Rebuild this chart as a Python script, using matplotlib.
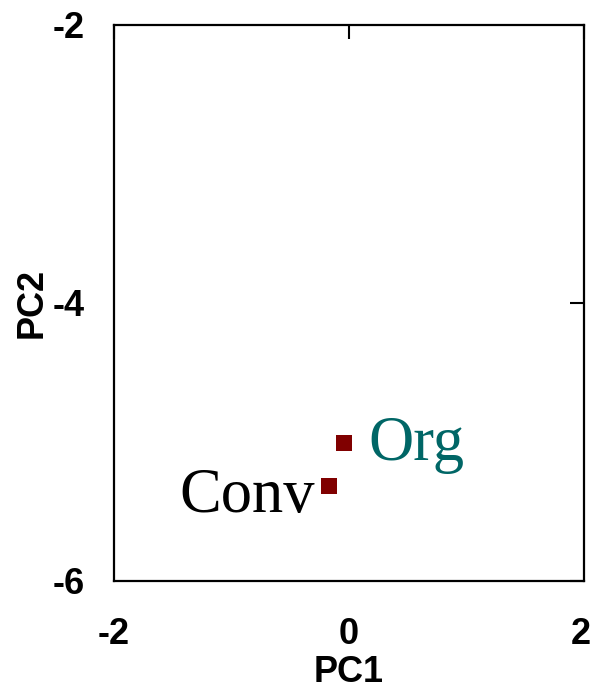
import matplotlib
matplotlib.use("Agg")
import matplotlib.pyplot as plt
from matplotlib.transforms import ScaledTranslation

# PCA scores for the two farming systems
groups = ["Org", "Conv"]
pc1 = [-0.04, -0.17]
pc2 = [-5.01, -5.32]
label_colors = ["#006666", "#000000"]
x_ticks = [-2, 0, 2]
y_ticks = [-6, -4, -2]

fig = plt.figure(figsize=(5.92, 6.90), dpi=100)
ax = fig.add_axes([114 / 592, 1 - 581 / 690, 470 / 592, 556 / 690])

ax.scatter(pc1, pc2, marker="s", s=12 ** 2, color="#800000", zorder=3, linewidths=0)

offsets = {"Org": ((24, -2), "left"), "Conv": ((-14, -11), "right")}
for name, x, y, c in zip(groups, pc1, pc2, label_colors):
    (dx, dy), ha = offsets[name]
    ax.annotate(name, (x, y), xytext=(dx, dy), textcoords="offset pixels",
                ha=ha, va="center", fontsize=45, color=c,
                family="Liberation Serif")

tick_font = dict(fontsize=26, fontweight="bold", family="Liberation Sans")

ax.set_xlim(-2, 2)
ax.set_ylim(-6, -2)
ax.set_xticks(x_ticks)
ax.set_yticks(y_ticks)
ax.set_xticklabels([str(t) for t in x_ticks], **tick_font)
ax.set_yticklabels([str(t) for t in y_ticks], **tick_font)
ax.tick_params(axis="both", which="both", direction="in", length=10, width=1.5,
               bottom=False, left=False, top=True, right=True,
               labelbottom=True, labelleft=True, labeltop=False, labelright=False)
ax.tick_params(axis="x", pad=26)
ax.tick_params(axis="y", pad=21)

# keep the rightmost x tick label inside the figure edge
last = ax.get_xticklabels()[-1]
last.set_transform(last.get_transform() + ScaledTranslation(-3 / 100, 0, fig.dpi_scale_trans))

for sp in ax.spines.values():
    sp.set_linewidth(1.6)
    sp.set_color("black")

ax.set_xlabel("PC1", labelpad=2, **tick_font)
ax.set_ylabel("PC2", labelpad=2, **tick_font)

fig.savefig("out.png", dpi=100)
